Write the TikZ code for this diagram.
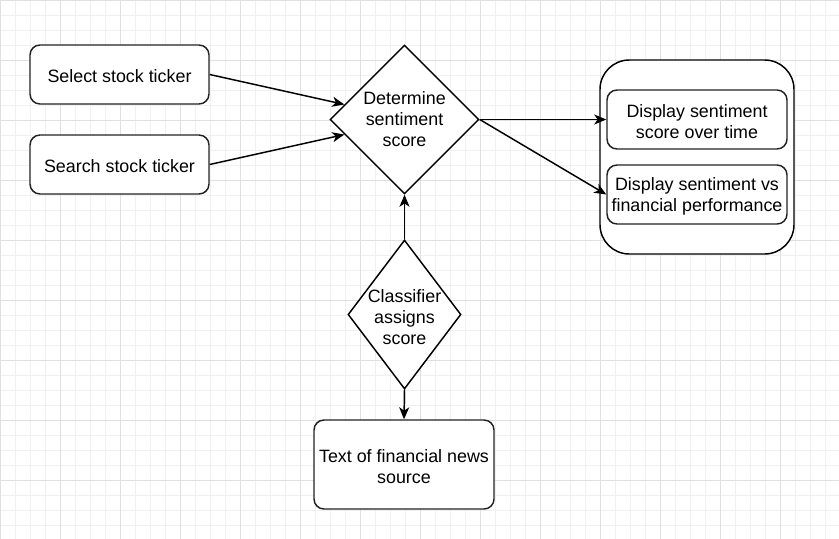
\documentclass[tikz,border=0pt]{standalone}
\usepackage{fontspec}
\setmainfont{Liberation Sans}
\usetikzlibrary{shapes.geometric,arrows.meta,calc}
\definecolor{gridminor}{HTML}{F0F0F0}
\definecolor{gridmajor}{HTML}{E0E0E0}
\definecolor{boxline}{HTML}{222222}
\begin{document}
\begin{tikzpicture}[x=0.75pt,y=-0.75pt,
  box/.style={draw=boxline,line width=1.1pt,rounded corners=7.5pt,fill=white,inner sep=0pt},
  dia/.style={draw=black,line width=1.1pt,diamond,fill=white,inner sep=0pt},
  lbl/.style={align=center,font=\fontsize{13.4pt}{15.8pt}\selectfont,inner sep=0pt},
  conn/.style={draw=black,line width=1.1pt,-{Stealth[length=9pt,width=7.5pt,inset=2.5pt]}}]
\useasboundingbox (0,0) rectangle (839,539);
% grid
\foreach \x in {0,15,...,839} {\draw[gridminor,line width=0.75pt] (\x,0) -- (\x,539);}
\foreach \y in {0,15,...,539} {\draw[gridminor,line width=0.75pt] (0,\y) -- (839,\y);}
\foreach \x in {0,60,...,839} {\draw[gridmajor,line width=0.75pt] (\x,0) -- (\x,539);}
\foreach \y in {0,60,...,539} {\draw[gridmajor,line width=0.75pt] (0,\y) -- (839,\y);}
% container
\node[draw=black,line width=1.1pt,rounded corners=22pt,fill=white,minimum width=194*0.75pt,minimum height=194*0.75pt,inner sep=0pt] (cont) at (697,157) {};
% boxes
\node[box,minimum width=179*0.75pt,minimum height=59*0.75pt] (sel) at (119.5,74.5) {};
\node[lbl] (sell) at (119.5,76.5) {Select stock ticker};
\node[box,minimum width=179*0.75pt,minimum height=59*0.75pt] (sea) at (119.5,164.5) {};
\node[lbl] (seal) at (119.5,166.5) {Search stock ticker};
\node[box,minimum width=180*0.75pt,minimum height=89*0.75pt] (txt) at (404,464.5) {};
\node[lbl] (txtl) at (404,467) {Text of financial news\\source};
\node[box,minimum width=180*0.75pt,minimum height=59*0.75pt] (d1) at (697,119.5) {};
\node[lbl] (d1l) at (697,121.5) {Display sentiment\\score over time};
\node[box,minimum width=180*0.75pt,minimum height=59*0.75pt] (d2) at (697,194.5) {};
\node[lbl] (d2l) at (697,196.5) {Display sentiment vs\\financial performance};
% diamonds
\node[dia,minimum width=149*0.75pt,minimum height=149*0.75pt] (det) at (404.5,119.5) {};
\node[lbl] (detl) at (404.5,119.5) {Determine\\sentiment\\score};
\node[dia,minimum width=113*0.75pt,minimum height=149*0.75pt] (cla) at (404.5,314.5) {};
\node[lbl] (clal) at (404.5,317.5) {Classifier\\assigns\\score};
% connectors
\draw[conn] (sel.east) -- ($(det.west)!0.2!(det.north)$);
\draw[conn] (sea.east) -- ($(det.west)!0.2!(det.south)$);
\draw[conn] (det.east) -- (d1.west);
\draw[conn] (det.east) -- (d2.west);
\draw[conn] (cla.north) -- (det.south);
\draw[conn] (cla.south) -- (txt.north);
\end{tikzpicture}
\end{document}
